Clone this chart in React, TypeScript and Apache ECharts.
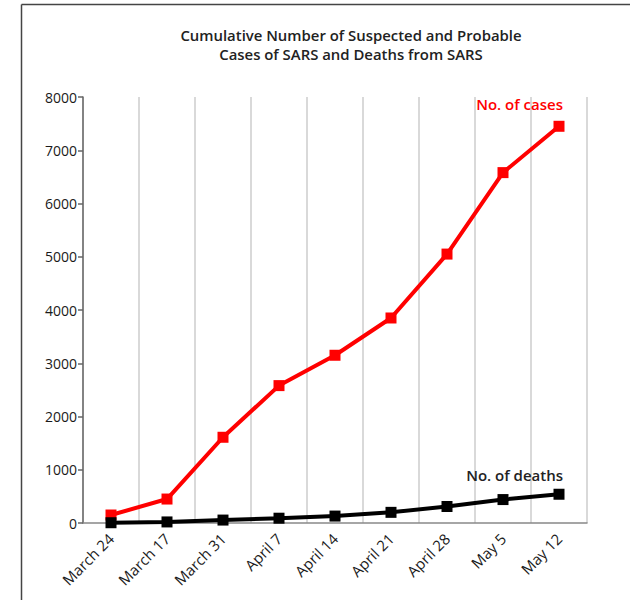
import React, { useEffect, useRef } from "react";
import * as echarts from "echarts";

const categories = ["March 24", "March 17", "March 31", "April 7", "April 14", "April 21", "April 28", "May 5", "May 12"];
const cases = [150, 450, 1610, 2580, 3150, 3850, 5050, 6580, 7450];
const deaths = [5, 20, 55, 90, 130, 200, 310, 440, 540];
const yTickLabels = ["0", "1000", "2000", "3000", "4000", "5000", "6000", "7000", "8000"];
const titleLines = ["Cumulative Number of Suspected and Probable", "Cases of SARS and Deaths from SARS"];
const casesLabel = "No. of cases";
const deathsLabel = "No. of deaths";

const FONT = "'Open Sans'";

export default function App() {
  const ref = useRef<HTMLDivElement>(null);
  useEffect(() => {
    const chart = echarts.init(ref.current!, null, { renderer: "svg" });
    chart.setOption({
      animation: false,
      backgroundColor: "#fff",
      title: {
        text: titleLines.join("\n"),
        left: 346,
        textAlign: "center",
        top: 20,
        textStyle: { fontFamily: FONT, fontSize: 14.9, fontWeight: 600, color: "#222", lineHeight: 19 },
      },
      grid: { left: 83, right: 43, top: 97, bottom: 77 },
      xAxis: {
        type: "category",
        data: categories,
        boundaryGap: true,
        axisLine: { lineStyle: { color: "#888", width: 1.5 } },
        axisTick: { show: false },
        axisLabel: { rotate: 45, interval: 0, fontFamily: FONT, fontSize: 15, color: "#1a1a1a", margin: 13 },
        splitLine: { show: true, interval: 0, lineStyle: { color: "#ccc", width: 1.5 } },
      },
      yAxis: {
        type: "value",
        min: 0,
        max: 8000,
        interval: 1000,
        axisLine: { show: true, lineStyle: { color: "#666", width: 1.5 } },
        axisTick: { show: true, length: 5, lineStyle: { color: "#666", width: 1.5 } },
        axisLabel: {
          fontFamily: FONT,
          fontSize: 14,
          color: "#1a1a1a",
          margin: 6,
          formatter: (v: number) => yTickLabels[Math.round(v / 1000)] ?? String(v),
        },
        splitLine: { show: false },
      },
      series: [
        {
          type: "line",
          data: cases,
          symbol: "rect",
          symbolSize: 11,
          lineStyle: { color: "#ff0000", width: 4 },
          itemStyle: { color: "#ff0000" },
          z: 3,
        },
        {
          type: "line",
          data: deaths,
          symbol: "rect",
          symbolSize: 11,
          lineStyle: { color: "#000", width: 4 },
          itemStyle: { color: "#000" },
          z: 4,
        },
      ],
      graphic: [
        { type: "line", shape: { x1: 21.5, y1: 4.5, x2: 630, y2: 4.5 }, style: { stroke: "#444", lineWidth: 1.5 } },
        { type: "line", shape: { x1: 21.5, y1: 4.5, x2: 21.5, y2: 600 }, style: { stroke: "#444", lineWidth: 1.5 } },
        {
          type: "text",
          x: 563,
          y: 104,
          z: 100,
          style: { text: casesLabel, fill: "#ff0000", font: `600 15px ${FONT}`, textAlign: "right", textVerticalAlign: "middle" },
        },
        {
          type: "text",
          x: 563,
          y: 475,
          z: 100,
          style: { text: deathsLabel, fill: "#222", font: `600 15px ${FONT}`, textAlign: "right", textVerticalAlign: "middle" },
        },
      ],
    });
    return () => chart.dispose();
  }, []);
  return <div ref={ref} style={{ position: "fixed", left: 0, top: 0, width: 630, height: 600 }} />;
}
